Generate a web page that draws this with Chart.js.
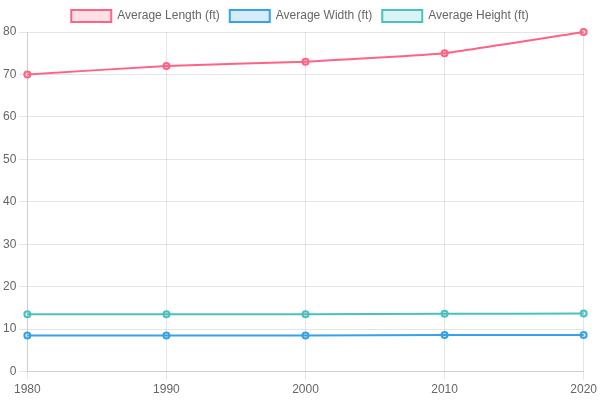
<!DOCTYPE html>
<html>
<head>
<meta charset="utf-8">
<script src="https://cdn.jsdelivr.net/npm/chart.js@4"></script>
<style>
  html, body { margin: 0; padding: 0; background: #fff; }
  #wrap { width: 600px; height: 400px; }
</style>
</head>
<body>
<div id="wrap"><canvas id="shipChart"></canvas></div>
<script>
// Data
const years = ['1980', '1990', '2000', '2010', '2020'];
const avgLength = [70, 72, 73, 75, 80];
const avgWidth = [8.5, 8.5, 8.5, 8.6, 8.6];
const avgHeight = [13.5, 13.5, 13.5, 13.6, 13.7];

const ctx = document.getElementById('shipChart').getContext('2d');
new Chart(ctx, {
    type: 'line',
    data: {
        labels: years,
        datasets: [{
            label: 'Average Length (ft)',
            data: avgLength,
            borderColor: 'rgb(255, 99, 132)',
            backgroundColor: 'rgba(255, 99, 132, 0.2)',
            borderWidth: 2,
            tension: 0.1
        }, {
            label: 'Average Width (ft)',
            data: avgWidth,
            borderColor: 'rgb(54, 162, 235)',
            backgroundColor: 'rgba(54, 162, 235, 0.2)',
            borderWidth: 2,
            tension: 0.1
        }, {
            label: 'Average Height (ft)',
            data: avgHeight,
            borderColor: 'rgb(75, 192, 192)',
            backgroundColor: 'rgba(75, 192, 192, 0.2)',
            borderWidth: 2,
            tension: 0.1
        }]
    },
    options: {
        responsive: true,
        maintainAspectRatio: false,
        animation: false,
        scales: {
            y: {
                beginAtZero: true
            }
        }
    }
});
</script>
</body>
</html>
